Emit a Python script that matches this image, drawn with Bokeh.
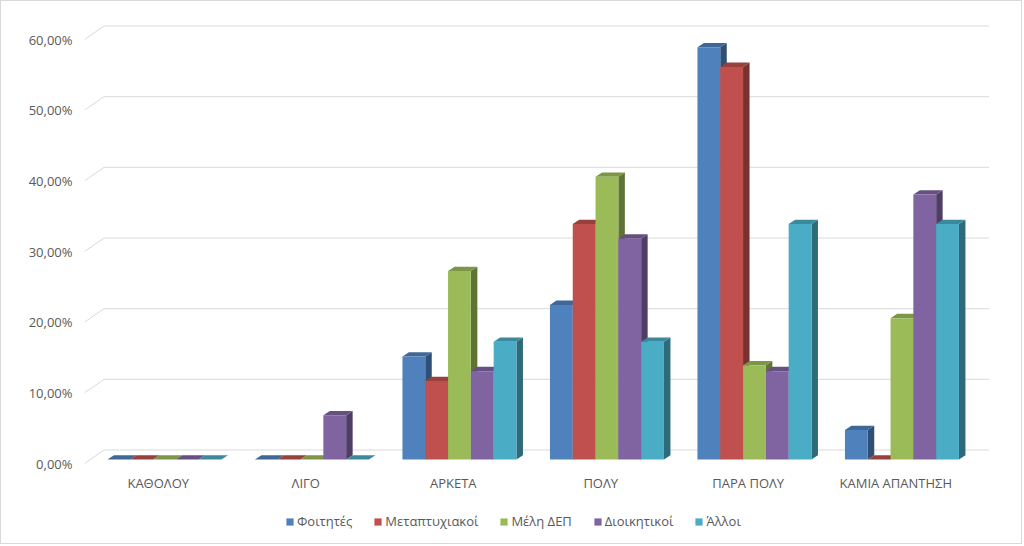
from bokeh.plotting import figure
from bokeh.models import Range1d, FixedTicker, Legend, LegendItem
from bokeh.core.properties import value
from bokeh.embed import file_html
from bokeh.resources import INLINE

categories = ["ΚΑΘΟΛΟΥ", "ΛΙΓΟ", "ΑΡΚΕΤΑ", "ΠΟΛΥ", "ΠΑΡΑ ΠΟΛΥ", "ΚΑΜΙΑ ΑΠΑΝΤΗΣΗ"]
series_names = ["Φοιτητές", "Μεταπτυχιακοί", "Μέλη ΔΕΠ", "Διοικητικοί", "Άλλοι"]
foitites = [0.0, 0.0, 14.58, 21.88, 58.33, 4.17]
metaptyxiakoi = [0.0, 0.0, 11.11, 33.33, 55.56, 0.0]
meli_dep = [0.0, 0.0, 26.67, 40.0, 13.33, 20.0]
dioikitikoi = [0.0, 6.25, 12.5, 31.25, 12.5, 37.5]
alloi = [0.0, 0.0, 16.67, 16.67, 33.33, 33.33]
y_ticks = [0, 10, 20, 30, 40, 50, 60]
y_tick_labels = ["0,00%", "10,00%", "20,00%", "30,00%", "40,00%", "50,00%", "60,00%"]

series_values = [foitites, metaptyxiakoi, meli_dep, dioikitikoi, alloi]
front_colors = ["#4F81BD", "#C0504D", "#9BBB59", "#8064A2", "#4BACC6"]


def shade(hex_color, f):
    h = hex_color.lstrip("#")
    r, g, b = (int(h[i:i + 2], 16) for i in (0, 2, 4))
    return "#%02x%02x%02x" % (int(r * f), int(g * f), int(b * f))


# canvas is 1022x544 inside a 1px border (page = canvas + 1)
PX_X = 147.5          # px per category
PX_Y = 424.0 / 60.0   # px per percent
W, H = 1022, 544
B_LEFT, B_RIGHT, B_TOP = 83, 23, 14
ZERO_CANVAS = 462     # canvas y of the front floor (value 0)
frame_w = W - B_LEFT - B_RIGHT
y_start = -(H - ZERO_CANVAS) / PX_Y
y_end = (ZERO_CANVAS - B_TOP) / PX_Y

bar_w = 22.8 / PX_X
ox, oy = 6.2 / PX_X, 4.0 / PX_Y      # bar front plane offset
dx, dy = 6.5 / PX_X, 4.3 / PX_Y      # bar depth
wx, wy = 19.5 / PX_X, 13.5 / PX_Y    # back wall offset
n_series = len(series_names)

p = figure(width=W, height=H, output_backend="svg", toolbar_location=None,
           x_range=Range1d(0, frame_w / PX_X), y_range=Range1d(y_start, y_end),
           x_axis_location=None,
           min_border_left=B_LEFT, min_border_right=B_RIGHT,
           min_border_top=B_TOP, min_border_bottom=0)
p.styles = {"border": "1px solid #D9D9D9"}
p.outline_line_color = None
p.grid.visible = False
p.background_fill_color = "white"
p.border_fill_color = "white"

# gridlines on side wall + back wall
gx = [[0, wx, len(categories) + wx] for v in y_ticks]
gy = [[v, v + wy, v + wy] for v in y_ticks]
p.multi_line(gx, gy, line_color="#D9D9D9", line_width=1)

legend_items = []
for j, (name, vals, col) in enumerate(zip(series_names, series_values, front_colors)):
    fx, fy, tx, ty, sx, sy = [], [], [], [], [], []
    for i, v in enumerate(vals):
        xl = i + 0.5 + ox + (j - n_series / 2) * bar_w
        xr = xl + bar_w
        yb = oy
        yt = oy + v
        fx.append([xl, xr, xr, xl]); fy.append([yb, yb, yt, yt])
        tx.append([xl, xr, xr + dx, xl + dx]); ty.append([yt, yt, yt + dy, yt + dy])
        sx.append([xr, xr + dx, xr + dx, xr]); sy.append([yb, yb + dy, yt + dy, yt])
    p.patches(sx, sy, fill_color=shade(col, 0.62), line_color=None)
    p.patches(tx, ty, fill_color=shade(col, 0.8), line_color=None)
    r = p.patches(fx, fy, fill_color=col, line_color=None)
    legend_items.append(LegendItem(label=name, renderers=[r]))

font = "Open Sans"
txt_col = "#595959"

# category labels under the floor
label_y = -19.0 / PX_Y
p.text(x=[i + 0.5 for i in range(len(categories))], y=[label_y] * len(categories),
       text=categories, text_font=value(font), text_font_size="13px",
       text_color=txt_col, text_align="center", text_baseline="middle")

p.yaxis.ticker = FixedTicker(ticks=y_ticks)
p.yaxis.major_label_overrides = {t: l for t, l in zip(y_ticks, y_tick_labels)}
p.yaxis.axis_line_color = None
p.yaxis.major_tick_line_color = None
p.yaxis.minor_tick_line_color = None
p.yaxis.major_tick_out = 0
p.yaxis.major_tick_in = 0
p.yaxis.major_label_text_font = font
p.yaxis.major_label_text_font_size = "13px"
p.yaxis.major_label_text_color = txt_col
p.yaxis.major_label_standoff = 12

legend = Legend(items=legend_items, orientation="horizontal", location=(201, 15),
                glyph_width=9, glyph_height=9, label_standoff=3, spacing=21,
                label_text_font=font, label_text_font_size="13px",
                label_text_color=txt_col, border_line_color=None,
                background_fill_alpha=0, padding=6, margin=0)
p.add_layout(legend, "center")

open("out.html", "w").write(file_html(p, INLINE))
